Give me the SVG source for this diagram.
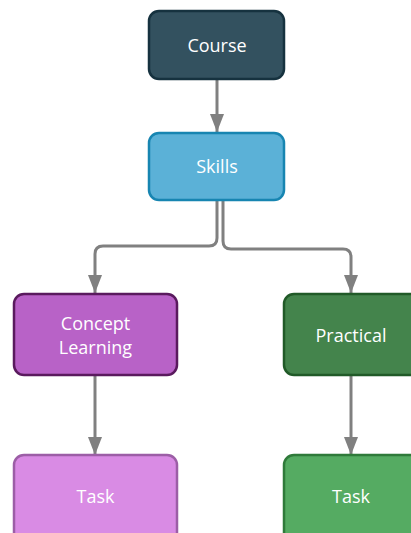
<svg xmlns="http://www.w3.org/2000/svg" width="411" height="533" viewBox="0 0 411 533">
  <style>
    .box { stroke-width: 2.5; }
    .lbl { font-family: "Open Sans", "Noto Sans", sans-serif; font-size: 18px; fill: #ffffff; text-anchor: middle; dominant-baseline: central; }
    .edge { fill: none; stroke: #808080; stroke-width: 3; }
  </style>
  <defs>
    <marker id="arrow" viewBox="0 0 18 14" refX="18" refY="7" markerWidth="18" markerHeight="14" markerUnits="userSpaceOnUse" orient="auto">
      <path d="M0,0 L18,7 L0,14 Z" fill="#808080"/>
    </marker>
  </defs>
  <rect width="411" height="533" fill="#ffffff"/>

  <g id="connectors">
    <path class="edge" d="M217,80 V132" marker-end="url(#arrow)"/>
    <path class="edge" d="M217,201 V238 Q217,246 209,246 H103 Q95,246 95,254 V293" marker-end="url(#arrow)"/>
    <path class="edge" d="M223,201 V241 Q223,249 231,249 H343 Q351,249 351,257 V293" marker-end="url(#arrow)"/>
    <path class="edge" d="M95,376 V455" marker-end="url(#arrow)"/>
    <path class="edge" d="M351,376 V455" marker-end="url(#arrow)"/>
  </g>

  <g id="course">
    <rect class="box" x="149" y="11" width="135" height="68" rx="10" fill="#33515f" stroke="#16323f"/>
    <text class="lbl" x="217" y="45">Course</text>
  </g>
  <g id="skills">
    <rect class="box" x="149" y="133" width="135" height="67" rx="10" fill="#5bb1d7" stroke="#1785b1"/>
    <text class="lbl" x="217" y="166">Skills</text>
  </g>
  <g id="concept-learning">
    <rect class="box" x="14" y="294" width="163" height="81" rx="10" fill="#b862c7" stroke="#5a1a5e"/>
    <text class="lbl" x="95.5" y="323">Concept</text>
    <text class="lbl" x="95.5" y="347">Learning</text>
  </g>
  <g id="practical">
    <rect class="box" x="284" y="294" width="136" height="81" rx="10" fill="#44844c" stroke="#215a28"/>
    <text class="lbl" x="351" y="335">Practical</text>
  </g>
  <g id="task-concept">
    <rect class="box" x="14" y="455" width="163" height="90" rx="10" fill="#d98be4" stroke="#9c5ea6"/>
    <text class="lbl" x="95.5" y="496">Task</text>
  </g>
  <g id="task-practical">
    <rect class="box" x="284" y="455" width="136" height="90" rx="10" fill="#55ab62" stroke="#2f7a3a"/>
    <text class="lbl" x="351" y="496">Task</text>
  </g>
</svg>
